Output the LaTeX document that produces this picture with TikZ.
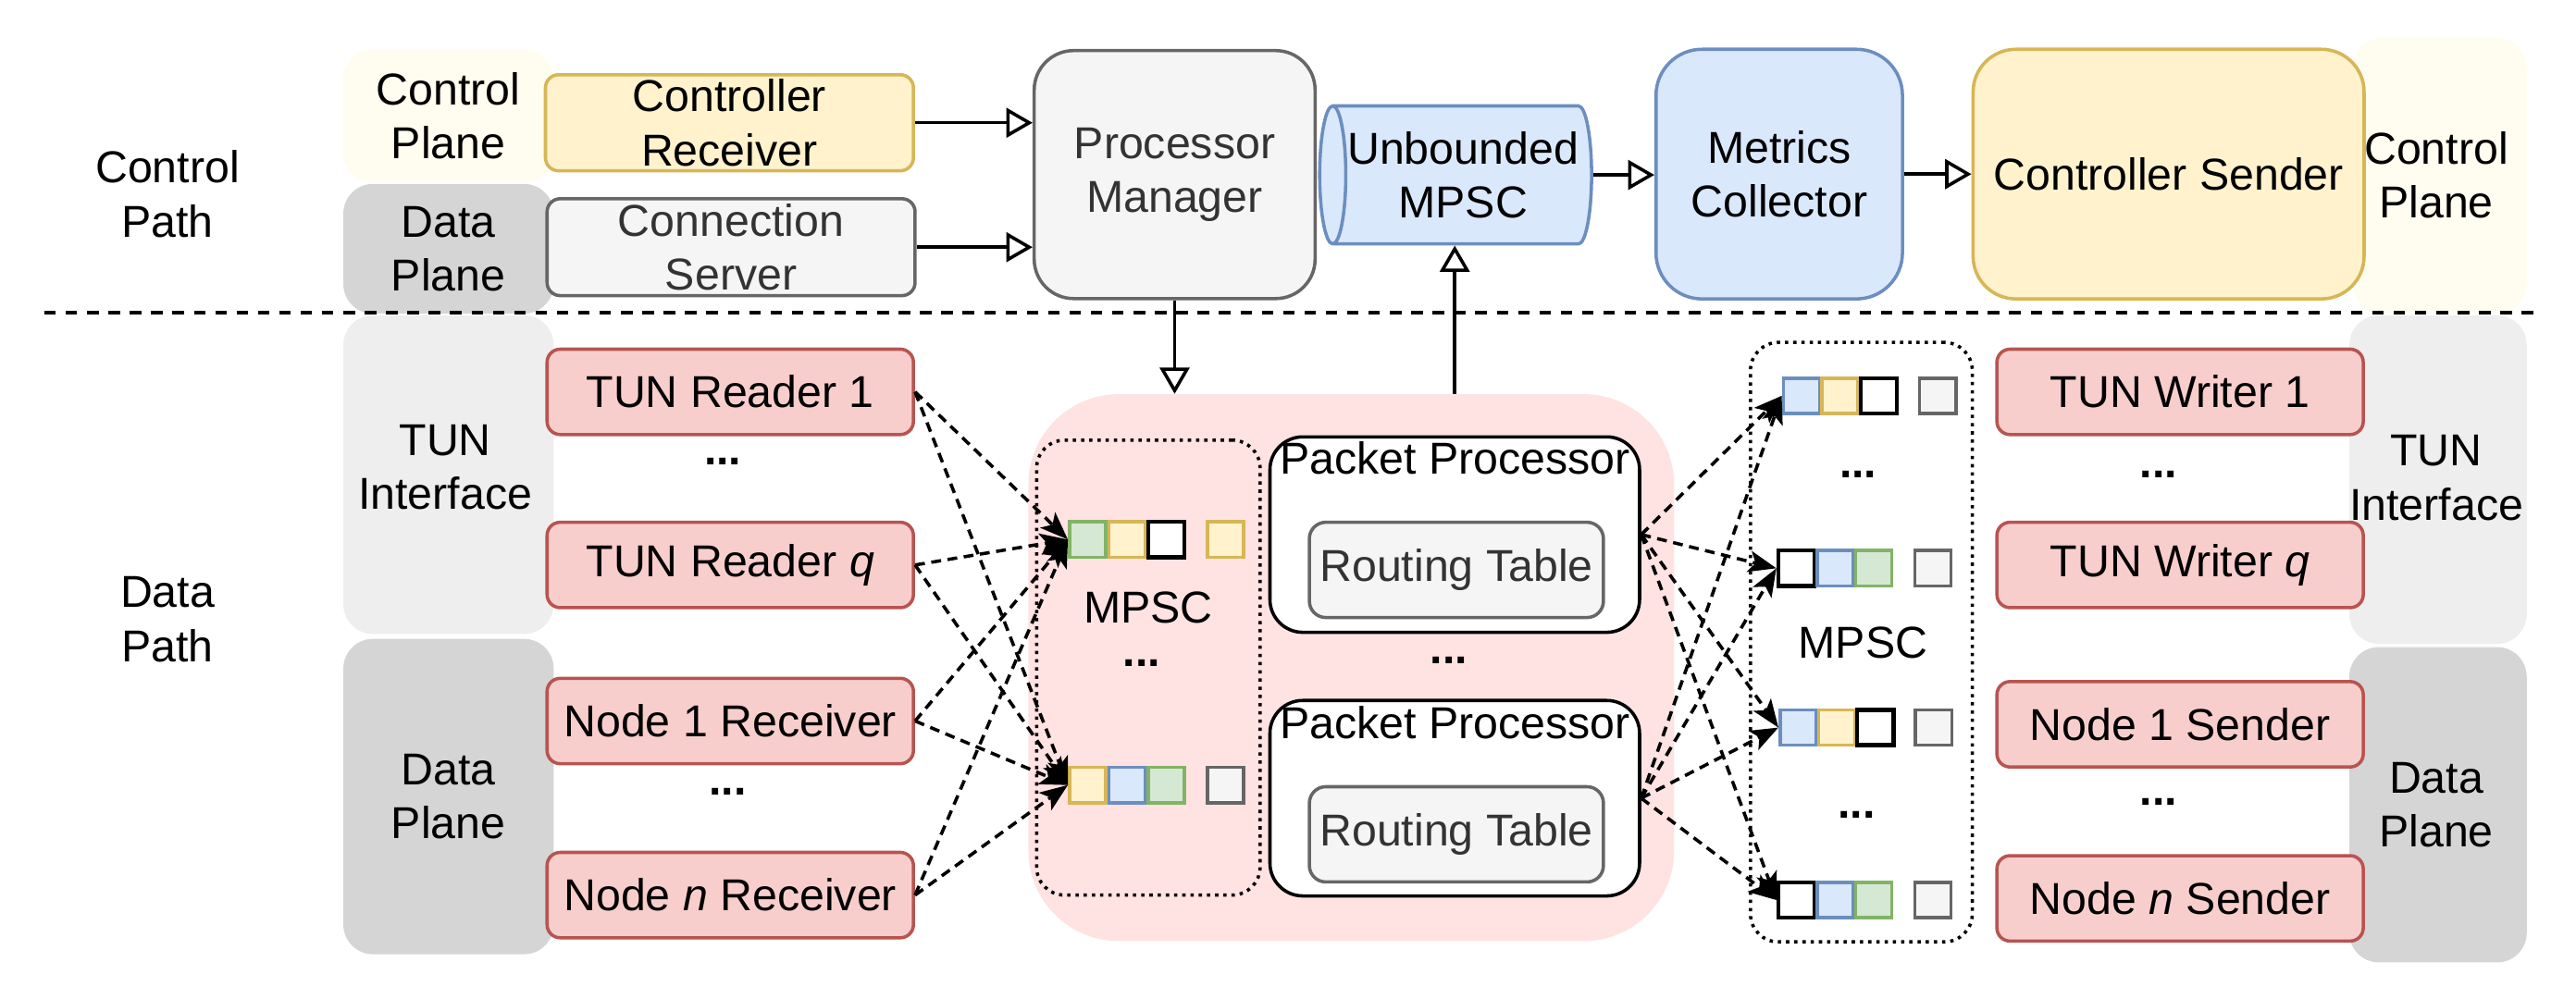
\documentclass[tikz,border=0pt]{standalone}
\usepackage{fontspec}
\setmainfont{Liberation Sans}
\usetikzlibrary{arrows.meta,shapes.geometric,calc}
\definecolor{redF}{HTML}{F8CECC}
\definecolor{redD}{HTML}{B85450}
\definecolor{yelF}{HTML}{FFF2CC}
\definecolor{yelD}{HTML}{D6B656}
\definecolor{bluF}{HTML}{DAE8FC}
\definecolor{bluD}{HTML}{6C8EBF}
\definecolor{grnF}{HTML}{D5E8D4}
\definecolor{grnD}{HTML}{82B366}
\definecolor{gryF}{HTML}{F5F5F5}
\definecolor{gryD}{HTML}{666666}
\definecolor{gryT}{HTML}{333333}
\definecolor{pinkbg}{HTML}{FFE2E2}
\definecolor{cpbg}{HTML}{FFFDEF}
\definecolor{tunbg}{HTML}{EEEEEE}
\definecolor{dpbg}{HTML}{D5D5D5}
\begin{document}
\begin{tikzpicture}[x=1pt,y=-1pt,
  every node/.style={font=\fontsize{27.2pt}{33pt}\selectfont, align=center, inner sep=0pt},
  plate/.style={fill=#1, draw=none, rounded corners=18pt},
  redbox/.style={draw=redD, fill=redF, line width=2pt, rounded corners=8pt, minimum width=223pt, minimum height=52pt},
  bigbox/.style={line width=2pt, rounded corners=24pt},
  sq/.style={line width=2pt, minimum width=22pt, minimum height=21.5pt},
  sqg/.style={sq, draw=grnD, fill=grnF},
  sqy/.style={sq, draw=yelD, fill=yelF},
  sqb/.style={sq, draw=bluD, fill=bluF},
  sqa/.style={sq, draw=gryD, fill=gryF},
  sqw/.style={sq, draw=black, fill=white, line width=2.5pt},
  dotbox/.style={draw, line width=2pt, dash pattern=on 2pt off 3pt, rounded corners=17pt},
  ppbox/.style={draw, line width=2pt, fill=white, rounded corners=20pt, minimum width=225pt, minimum height=119pt},
  rtbox/.style={draw=gryD, fill=gryF, text=gryT, line width=2pt, rounded corners=10pt, minimum width=179pt, minimum height=58pt},
  dasharrow/.style={line width=2pt, dash pattern=on 6pt off 4pt, -{Stealth[length=17pt,width=13pt,inset=4pt]}},
  openarrow/.style={line width=2pt, -{Triangle[open, length=16pt, width=18pt]}},
  sepline/.style={line width=2pt, dash pattern=on 7pt off 6pt},
  dots/.style={anchor=base, font=\fontsize{27.2pt}{33pt}\selectfont\bfseries}
]
\useasboundingbox (0,0) rectangle (1568,608);

% background plates
\node[plate=cpbg, minimum width=128pt, minimum height=81pt] (cpL) at (273,70.5) {Control\\Plane};
\node[plate=dpbg, minimum width=128pt, minimum height=79pt] (dpT) at (273,151.5) {Data\\Plane};
\node[plate=tunbg, minimum width=128pt, minimum height=194pt] (tunL) at (273,289) {};
\node (tunLt) at (271,284.5) {TUN\\Interface};
\node[plate=dpbg, minimum width=128pt, minimum height=192pt] (dpL) at (273,485) {Data\\Plane};
\node[plate=cpbg, minimum width=106pt, minimum height=168pt] (cpR) at (1485,107) {};
\node[plate=tunbg, minimum width=108pt, minimum height=200pt] (tunR) at (1484,292) {};
\node[plate=dpbg, minimum width=108pt, minimum height=192pt] (dpR) at (1484,490) {};
\node[fill=pinkbg, rounded corners=55pt, minimum width=393pt, minimum height=333pt] (pink) at (822.5,406.5) {};

% path labels
\node (cpath) at (102,118) {Control\\Path};
\node (dpath) at (102,377) {Data\\Path};

% control path
\node[draw=yelD, fill=yelF, line width=2pt, rounded corners=8pt, minimum width=224pt, minimum height=58.5pt] (cr) at (444,74.75) {Controller\\Receiver};
\node[draw=gryD, fill=gryF, text=gryT, line width=2pt, rounded corners=8pt, minimum width=224pt, minimum height=59pt] (cs) at (445,150.5) {Connection\\Server};
\node[bigbox, draw=gryD, fill=gryF, text=gryT, minimum width=171pt, minimum height=151pt] (pm) at (715,106.3) {Processor\\Manager};
\node[shape=cylinder, shape border rotate=180, aspect=0.3, draw=bluD, fill=bluF, line width=2pt, minimum height=163pt, minimum width=84pt] (ub) at (890.5,106.5) {Unbounded\\MPSC};
\node[bigbox, draw=bluD, fill=bluF, rounded corners=28pt, minimum width=150pt, minimum height=152pt] (mc) at (1083,106) {Metrics\\Collector};
\node[bigbox, draw=yelD, fill=yelF, rounded corners=26pt, minimum width=238pt, minimum height=152pt] (csd) at (1320,106) {Controller Sender};
\node (cpRt) at (1483,106.5) {Control\\Plane};

% separator
\coordinate (sepL) at (27,190.5);
\coordinate (sepR) at (1546,190.5);
\draw[sepline] (sepL) -- (sepR);

% right plate labels
\node (tunRt) at (1483,291) {TUN\\Interface};
\node (dpRt) at (1483,490) {Data\\Plane};

% readers
\node[redbox] (r1) at (444.5,238.6) {TUN Reader 1};
\node[redbox] (rq) at (444.5,344) {TUN Reader \textit{q}};
\node[redbox] (n1) at (444.5,439) {Node 1 Receiver};
\node[redbox] (nn) at (444.5,545) {Node \textit{n} Receiver};
\node[dots] (dl1) at (440,283) {...};
\node[dots] (dl2) at (443,484) {...};

% writers
\node[redbox] (w1) at (1327,238.6) {TUN Writer 1};
\node[redbox] (wq) at (1327,344) {TUN Writer \textit{q}};
\node[redbox] (s1) at (1327,441) {Node 1 Sender};
\node[redbox] (sn) at (1327,547) {Node \textit{n} Sender};
\node[dots] (dw1) at (1314,291) {...};
\node[dots] (dw2) at (1314,490) {...};

% left MPSC
\node[dotbox, minimum width=136pt, minimum height=277pt] (mpscL) at (699,406.5) {};
\node (mpscLt) at (699,370) {MPSC};
\node[dots] (dm1) at (695,406) {...};
\node[sqg] (qa1) at (662,328.5) {};
\node[sqy] (qa2) at (686,328.5) {};
\node[sqw] (qa3) at (710,328.5) {};
\node[sqy] (qa4) at (746,328.5) {};
\node[sqy] (qb1) at (662,478) {};
\node[sqb] (qb2) at (686,478) {};
\node[sqg] (qb3) at (710,478) {};
\node[sqa] (qb4) at (746,478) {};

% packet processors
\node[ppbox] (pp1) at (885.5,325.5) {};
\node (pp1t) at (885.5,279) {Packet Processor};
\node[rtbox] (rt1) at (886.5,347) {Routing Table};
\node[ppbox] (pp2) at (885.5,486) {};
\node (pp2t) at (885.5,440) {Packet Processor};
\node[rtbox] (rt2) at (886.5,508) {Routing Table};
\node[dots] (dpp) at (882,404) {...};

% right MPSC
\node[dotbox, minimum width=135pt, minimum height=365pt] (mpscR) at (1133,391) {};
\node (mpscRt) at (1134,391.5) {MPSC};
\node[dots] (dr1) at (1131,291) {...};
\node[dots] (dr2) at (1130,498) {...};
\node[sqb] (qc1) at (1096.5,241) {};
\node[sqy] (qc2) at (1120,241) {};
\node[sqw] (qc3) at (1143.5,241) {};
\node[sqa] (qc4) at (1179.5,241) {};
\node[sqw] (qd1) at (1093.5,346) {};
\node[sqb] (qd2) at (1117,346) {};
\node[sqg] (qd3) at (1140.5,346) {};
\node[sqa] (qd4) at (1176.5,346) {};
\node[sqb] (qe1) at (1094.5,443) {};
\node[sqy] (qe2) at (1118,443) {};
\node[sqw] (qe3) at (1141.5,443) {};
\node[sqa] (qe4) at (1177,443) {};
\node[sqw] (qf1) at (1093.5,548) {};
\node[sqb] (qf2) at (1117,548) {};
\node[sqg] (qf3) at (1140.5,548) {};
\node[sqa] (qf4) at (1176.5,548) {};

% control arrows
\draw[openarrow] (cr.east) -- (cr.east -| pm.west);
\draw[openarrow] (cs.east) -- (cs.east -| pm.west);
\draw[openarrow] (ub.east) -- (ub.east -| mc.west);
\draw[openarrow] (mc.east) -- (csd.west);
\draw[openarrow] (pm.south) -- (pm.south |- pink.north);
\draw[openarrow] (pp1.north |- pink.north) -- (pp1.north |- ub.south);

% data arrows
\foreach \s in {r1,rq,n1,nn} {
  \foreach \t in {qa1,qb1} {
    \draw[dasharrow] (\s.east) -- (\t.west);
  }
}
\foreach \s in {pp1,pp2} {
  \foreach \t in {qc1,qd1,qe1,qf1} {
    \draw[dasharrow] (\s.east) -- (\t.west);
  }
}
\end{tikzpicture}
\end{document}
